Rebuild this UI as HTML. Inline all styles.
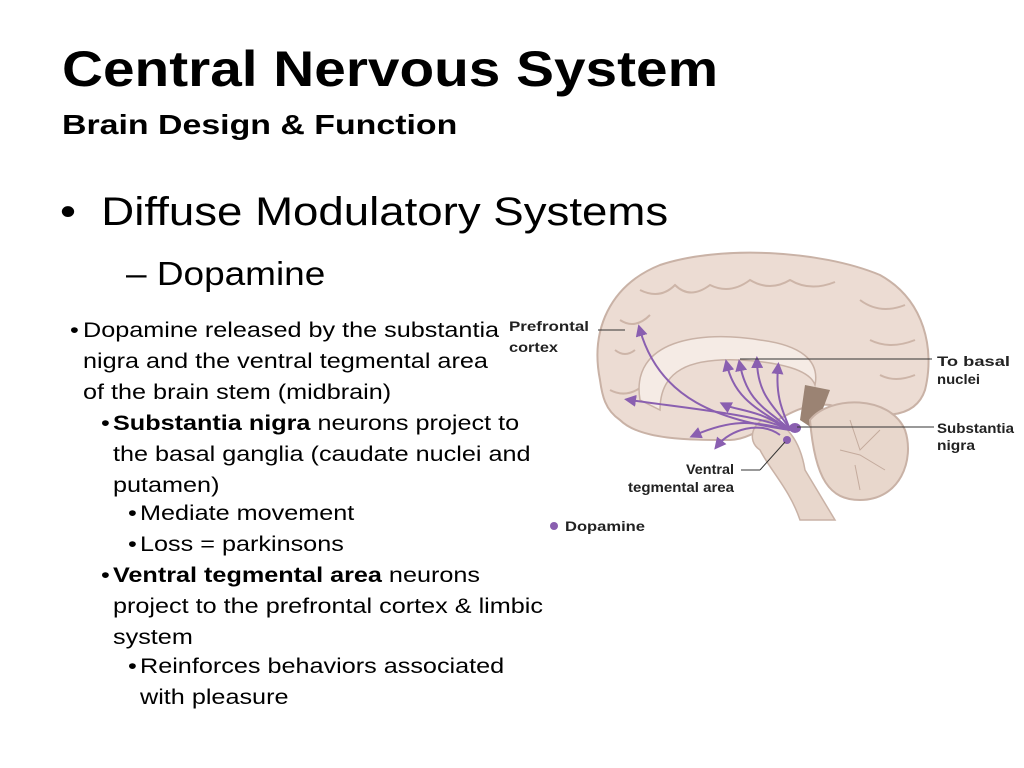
<!DOCTYPE html>
<html><head><style>
body{margin:0;width:1024px;height:768px;background:#fff;font-family:"Liberation Sans",sans-serif;position:relative;overflow:hidden}
.t{position:absolute;white-space:nowrap;color:#000;transform-origin:0 0}
.s{font-size:21px;line-height:31px;transform:scaleX(1.2)}
</style></head><body>
<div class="t" style="left:62px;top:40px;font-size:50px;font-weight:bold;transform:scaleX(1.135)">Central Nervous System</div>
<div class="t" style="left:62px;top:109px;font-size:28px;font-weight:bold;transform:scaleX(1.21)">Brain Design &amp; Function</div>
<div class="t" style="left:60px;top:190px;font-size:40px;transform:scaleX(1.14)">•&nbsp; Diffuse Modulatory Systems</div>
<div class="t" style="left:126px;top:255px;font-size:33px;transform:scaleX(1.12)">– Dopamine</div>
<div class="t s" style="left:70px;top:315px">•</div>
<div class="t s" style="left:83px;top:315px">Dopamine released by the substantia<br>nigra and the ventral tegmental area<br>of the brain stem (midbrain)</div>
<div class="t s" style="left:101px;top:408px">•</div>
<div class="t s" style="left:113px;top:408px"><b>Substantia nigra</b> neurons project to<br>the basal ganglia (caudate nuclei and<br>putamen)</div>
<div class="t s" style="left:128px;top:498px">•</div><div class="t s" style="left:140px;top:498px">Mediate movement</div>
<div class="t s" style="left:128px;top:529px">•</div><div class="t s" style="left:140px;top:529px">Loss = parkinsons</div>
<div class="t s" style="left:101px;top:560px">•</div>
<div class="t s" style="left:113px;top:560px"><b>Ventral tegmental area</b> neurons<br>project to the prefrontal cortex &amp; limbic<br>system</div>
<div class="t s" style="left:128px;top:651px">•</div>
<div class="t s" style="left:140px;top:651px">Reinforces behaviors associated<br>with pleasure</div>

<svg style="position:absolute;left:0;top:0" width="1024" height="768">
<defs><marker id="a" markerWidth="6" markerHeight="6" refX="3" refY="3" orient="auto"><path d="M0,0L6,3L0,6z" fill="#8a5fb0"/></marker></defs>
<path d="M600,380 C590,330 610,285 660,265 C720,245 820,250 880,275 C925,300 935,350 925,390 C915,420 880,420 830,405 C790,400 760,440 730,440 C690,440 640,440 620,420 C605,410 602,395 600,380Z" fill="#ecdcd3" stroke="#c9b2a6" stroke-width="2"/>
<g stroke="#cdb5a8" stroke-width="2" fill="none">
<path d="M640,290 q20,10 35,-5 q15,15 35,0 q20,10 40,-5 q20,12 40,0 q20,12 45,2"/>
<path d="M620,320 q15,10 30,-5 M860,300 q20,15 45,5 M870,340 q20,10 45,0 M880,375 q15,8 35,0"/>
<path d="M615,350 q10,8 20,0 M610,390 q15,8 30,-2"/>
</g>
<path d="M640,400 C630,340 700,330 760,340 C800,345 820,360 815,385 C810,370 780,362 740,360 C690,358 660,370 660,410Z" fill="#f5ebe5" stroke="#c9b2a6" stroke-width="1.5"/>
<path d="M805,385 L830,390 L815,430 L800,420Z" fill="#9b8373"/>
<path d="M810,420 C830,395 890,395 905,430 C915,460 900,500 860,500 C830,500 815,480 810,420Z" fill="#e8d7cc" stroke="#c9b2a6" stroke-width="2"/>
<g stroke="#c4ab9d" fill="none"><path d="M850,420 l10,30 l20,-20 M840,450 l20,5 l25,15 M855,465 l5,25"/></g>
<path d="M765,420 C785,420 800,440 805,470 L835,520 L800,520 C790,490 770,470 760,450 C745,440 755,420 765,420Z" fill="#e8d7cc" stroke="#c9b2a6" stroke-width="1.5"/>
<g stroke="#8a5fb0" stroke-width="2" fill="none" marker-end="url(#a)">
<path d="M790,430 C760,415 700,410 630,400"/>
<path d="M790,430 C720,420 660,400 640,330"/>
<path d="M785,428 C760,410 735,410 725,405"/>
<path d="M790,430 C750,420 730,420 695,435"/>
<path d="M780,435 C760,420 730,430 718,445"/>
<path d="M790,430 C760,410 735,400 727,365"/>
<path d="M790,430 C770,410 748,405 740,365"/>
<path d="M790,430 C780,410 758,400 757,362"/>
<path d="M790,430 C785,415 775,400 778,368"/>
</g>
<ellipse cx="795" cy="428" rx="6" ry="5" fill="#8a5fb0"/>
<circle cx="787" cy="440" r="4" fill="#8a5fb0"/>
<g stroke="#333" stroke-width="1">
<line x1="598" y1="330" x2="625" y2="330"/>
<line x1="740" y1="359" x2="932" y2="359"/>
<line x1="797" y1="427" x2="934" y2="427"/>
<line x1="741" y1="470" x2="760" y2="470"/><line x1="760" y1="470" x2="785" y2="442"/>
</g>
<g font-family="Liberation Sans" font-weight="bold" font-size="14" fill="#222" lengthAdjust="spacingAndGlyphs">
<text x="509" y="331" textLength="80" lengthAdjust="spacingAndGlyphs">Prefrontal</text><text x="509" y="352" textLength="49" lengthAdjust="spacingAndGlyphs">cortex</text>
<text x="937" y="366" textLength="73" lengthAdjust="spacingAndGlyphs">To basal</text><text x="937" y="384" textLength="43" lengthAdjust="spacingAndGlyphs">nuclei</text>
<text x="937" y="433" textLength="77" lengthAdjust="spacingAndGlyphs">Substantia</text><text x="937" y="450" textLength="38" lengthAdjust="spacingAndGlyphs">nigra</text>
<text x="686" y="474" textLength="48" lengthAdjust="spacingAndGlyphs">Ventral</text><text x="628" y="492" textLength="106" lengthAdjust="spacingAndGlyphs">tegmental area</text>
<circle cx="554" cy="526" r="4" fill="#8a5fb0"/>
<text x="565" y="531" textLength="80" lengthAdjust="spacingAndGlyphs">Dopamine</text>
</g>
</svg>
</body></html>
